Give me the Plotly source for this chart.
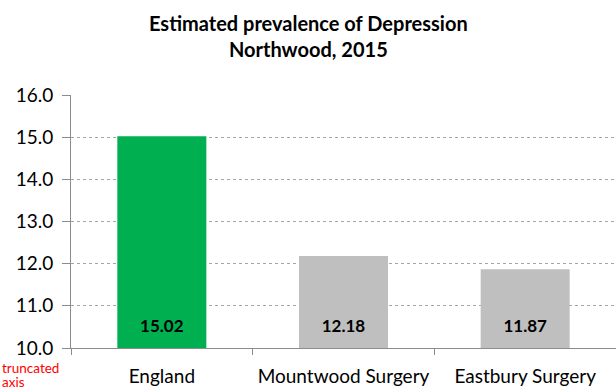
import plotly.graph_objects as go

categories = ["England", "Mountwood Surgery", "Eastbury Surgery"]
values = [15.02, 12.18, 11.87]
colors = ["#00B050", "#BFBFBF", "#BFBFBF"]
y_ticks = [10, 11, 12, 13, 14, 15, 16]
y_tick_labels = ["10.0", "11.0", "12.0", "13.0", "14.0", "15.0", "16.0"]
label_y = 10.47  # vertical position for value labels inside bars

font = "Lato, Open Sans, sans-serif"

fig = go.Figure()
fig.add_trace(go.Bar(
    x=categories, y=values, marker=dict(color=colors, line=dict(width=0)),
    width=0.49, hoverinfo="x+y",
))
fig.add_trace(go.Scatter(
    x=categories, y=[label_y] * len(values), mode="text",
    text=[f"{v:.2f}" for v in values], textposition="middle center",
    textfont=dict(family=font, size=17, color="black", weight="bold"),
    hoverinfo="skip",
))

fig.update_layout(
    width=616, height=390,
    margin=dict(l=71, r=0, t=95, b=42),
    paper_bgcolor="white", plot_bgcolor="white",
    showlegend=False,
)
fig.add_annotation(
    text="Estimated prevalence of Depression<br>Northwood, 2015",
    xref="paper", yref="paper", x=(308 - 71) / 545, y=1 + (95 - 9) / 253,
    xanchor="center", yanchor="top", showarrow=False, align="center",
    font=dict(family=font, size=20, color="black", weight="bold"),
)
fig.update_yaxes(
    range=[10, 16], tickvals=y_ticks, ticktext=y_tick_labels,
    showgrid=True, gridcolor="#A6A6A6", griddash="3px,3px", gridwidth=1,
    showline=True, linecolor="#8C8C8C", linewidth=1,
    ticks="outside", ticklen=8, tickcolor="#8C8C8C",
    tickfont=dict(family=font, size=19, color="black"),
    ticklabelstandoff=5,
    zeroline=False, automargin=False,
)
fig.update_xaxes(
    showline=True, linecolor="#8C8C8C", linewidth=1,
    ticks="outside", tickson="boundaries", ticklen=6, tickcolor="#8C8C8C",
    tickfont=dict(family=font, size=19, color="black"),
    ticklabelstandoff=11, automargin=False,
)
for txt, ypix in [("truncated", 367.5), ("axis", 382)]:
    fig.add_annotation(text=txt, xref="paper", yref="paper",
                       x=-70/545, y=(348 - ypix)/253, xanchor="left",
                       yanchor="middle", align="left", showarrow=False,
                       borderpad=0,
                       font=dict(family=font, size=13.5, color="#FF0000"))

fig.write_html("out.html", config={"displayModeBar": False},
               post_script="document.body.style.margin='0';")
